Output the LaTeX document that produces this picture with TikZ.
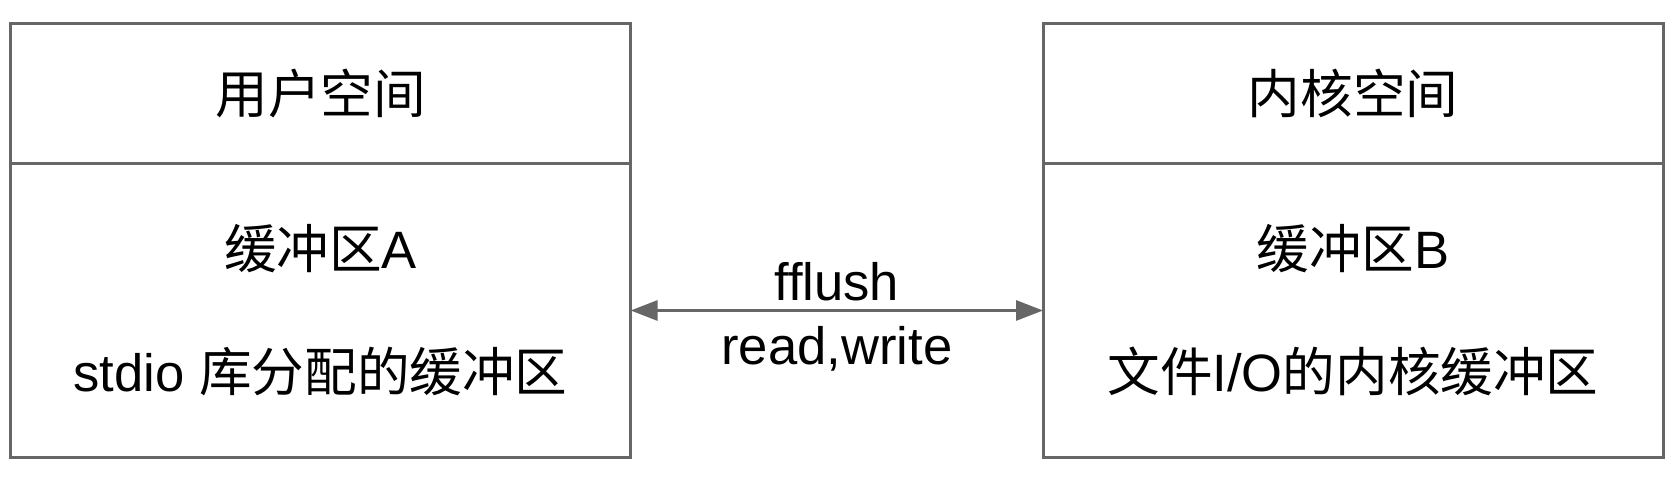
\documentclass[tikz,border=0pt]{standalone}
\usepackage{fontspec}
\setmainfont{Liberation Sans}
\newfontfamily\cjk{Noto Sans CJK SC}
\usetikzlibrary{positioning,arrows.meta}
\definecolor{linegray}{HTML}{666666}
\newcommand{\zh}[1]{{\cjk #1}}
\tikzset{
  part/.style={draw=linegray,line width=1.5pt,minimum width=310pt,inner sep=0pt,outer sep=0pt,
    font=\fontsize{26.3}{61.5}\selectfont,align=center},
  head/.style={part,minimum height=70pt},
  body/.style={part,minimum height=147pt},
  link/.style={draw=linegray,line width=1.5pt,
    {Triangle[length=13.5pt,width=10pt]}-{Triangle[length=13.5pt,width=10pt]}},
  tag/.style={font=\fontsize{26.3}{30}\selectfont}
}
\begin{document}
\begin{tikzpicture}[x=0.5pt,y=-0.5pt]
  \useasboundingbox (0,0) rectangle (1676,480);
  % user space
  \node[head] (userhead) at (320.6,93.5) {\zh{用户空间}};
  \node[body,below=0pt of userhead] (userbody) {\zh{缓冲区}A\\stdio \zh{库分配的缓冲区}};
  % kernel space
  \node[head] (kernhead) at (1353,93.5) {\zh{内核空间}};
  \node[body,below=0pt of kernhead] (kernbody) {\zh{缓冲区}B\\\zh{文件}I/O\zh{的内核缓冲区}};
  % calls between the two buffers
  \draw[link] (userbody.east) -- node[tag,above=0.5pt] (flushlabel) {fflush}
    node[tag,below=4pt] (rwlabel) {read,write} (kernbody.west);
\end{tikzpicture}
\end{document}
